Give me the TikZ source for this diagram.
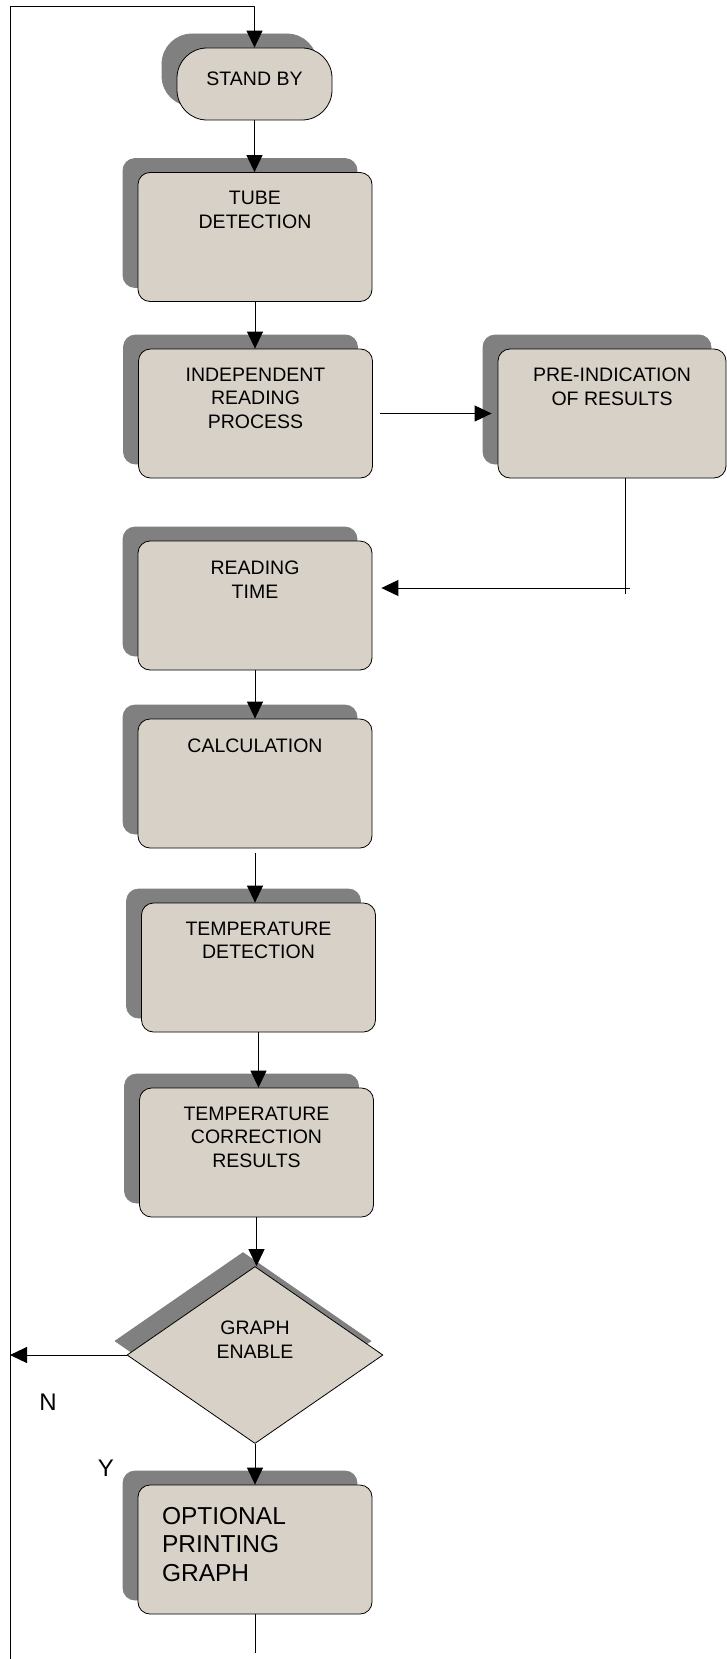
\documentclass[tikz,border=0pt]{standalone}
\usepackage{fontspec}
\setmainfont{Liberation Sans}
\usetikzlibrary{arrows.meta,shapes.geometric,shadows,calc}
\definecolor{boxfill}{RGB}{216,209,200}
\definecolor{shadowgray}{RGB}{128,128,128}
\newcommand{\boxtext}[3][200pt]{\parbox[c][#2][t]{#1}{\centering #3}}

\begin{document}
\begin{tikzpicture}[x=1pt,y=-1pt, line join=round,
  font=\fontsize{19.5}{23.5}\selectfont,
  stepbox/.style={draw=black, line width=0.8pt, fill=boxfill, rounded corners=12pt,
    minimum width=234pt, minimum height=129pt, inner xsep=0pt, inner ysep=19pt,
    copy shadow={shadow xshift=-15pt, shadow yshift=14pt, fill=shadowgray, draw=shadowgray}},
  terminal/.style={stepbox, rounded corners=30pt, minimum width=155pt, minimum height=72pt, inner ysep=24pt},
  decision/.style={diamond, draw=black, line width=0.8pt, fill=boxfill, inner sep=0pt,
    minimum width=256pt, minimum height=177pt,
    copy shadow={shadow xshift=-12pt, shadow yshift=14pt, fill=shadowgray, draw=shadowgray}},
  flow/.style={-{Triangle[length=17pt,width=16pt]}, line width=1pt},
  plain/.style={line width=1pt}]
\useasboundingbox (0,0) rectangle (727,1659);
% process boxes
\node[terminal] (standby)  at (254.5,84)   {\boxtext[140pt]{24pt}{STAND BY}};
\node[stepbox]  (tube)     at (255,237)    {\boxtext{91pt}{TUBE\\DETECTION}};
\node[stepbox]  (indep)    at (255.5,413.5) {\boxtext{91pt}{INDEPENDENT\\READING\\PROCESS}};
\node[stepbox, minimum width=228pt] (preind) at (612,413.5) {\boxtext{91pt}{PRE-INDICATION\\OF RESULTS}};
\node[stepbox]  (reading)  at (255,605.5)  {\boxtext{89pt}{READING\\TIME}};
\node[stepbox]  (calc)     at (255,783.5)  {\boxtext{89pt}{CALCULATION}};
\node[stepbox]  (tempdet)  at (258.5,967.5) {\boxtext{91pt}{TEMPERATURE\\DETECTION}};
\node[stepbox]  (tempcorr) at (256.5,1152.5) {\boxtext{91pt}{TEMPERATURE\\CORRECTION\\RESULTS}};
\node[decision] (graph)    at (255,1355)   {\boxtext[90pt]{68pt}{GRAPH\\ENABLE}};
\node[stepbox, inner ysep=22pt] (optional) at (255,1549.5)
  {\parbox[c][85pt][t]{186pt}{\raggedright\fontsize{24.5}{28.5}\selectfont OPTIONAL\\PRINTING\\GRAPH}};
% answers
\node[font=\fontsize{24}{28}\selectfont] (nolabel)  at (48,1402)  {N};
\node[font=\fontsize{24}{28}\selectfont] (yeslabel) at (106,1468) {Y};
% loop and connectors
\coordinate (topleft) at (10,7);
\coordinate (botleft) at (10,1659);
\coordinate (botend)  at (255,1653);
\coordinate (bend)    at (625,588);
\draw[flow] (botleft) -- (topleft) -- (topleft -| standby) -- (standby.north);
\draw[flow] (standby.south) -- (standby.south |- tube.north);
\draw[flow] (tube.south) -- (tube.south |- indep.north);
\draw[flow, shorten <=7pt, shorten >=6pt] (indep.east) -- (preind.west);
\draw[plain] (preind.south -| bend) -- ($(bend)+(0,6)$);
\draw[flow, shorten >=9pt] ($(bend)+(5,0)$) -- (reading.east |- bend);
\draw[flow] (reading.south) -- (reading.south |- calc.north);
\draw[flow, shorten <=5pt] (calc.south) -- (calc.south |- tempdet.north);
\draw[flow] (tempdet.south) -- (tempdet.south |- tempcorr.north);
\draw[flow] (tempcorr.south) -- (tempcorr.south |- graph.north);
\draw[flow] (graph.west) -- (graph.west -| topleft);
\draw[flow] (graph.south) -- (graph.south |- optional.north);
\draw[plain] (optional.south) -- (botend);
\end{tikzpicture}
\end{document}
